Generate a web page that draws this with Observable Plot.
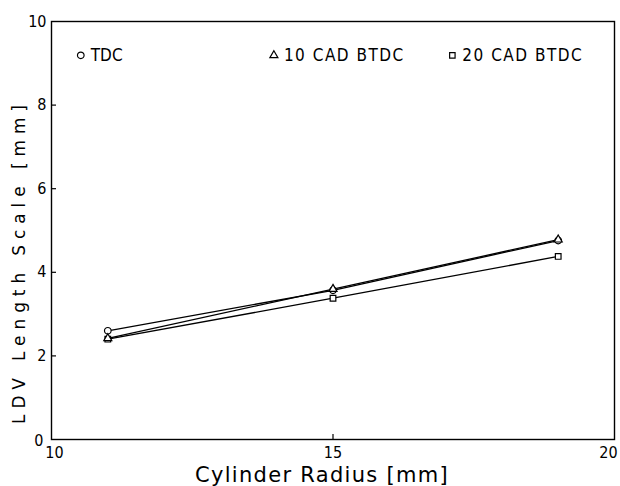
<!DOCTYPE html>
<html>
<head>
<meta charset="utf-8">
<script src="https://cdn.jsdelivr.net/npm/d3@7"></script>
<script src="https://cdn.jsdelivr.net/npm/@observablehq/plot@0.6"></script>
<style>
  html, body { margin: 0; padding: 0; background: #fff; }
  svg { display: block; }
</style>
</head>
<body>
<div id="chart"></div>
<script>
// Cylinder radius positions (mm)
const radius = [11, 15, 19];
// LDV length scale (mm) at each crank angle
const tdc   = [2.6, 3.57, 4.76];
const cad10 = [2.42, 3.6, 4.78];
const cad20 = [2.4, 3.38, 4.38];

const seriesNames = ["TDC", "10 CAD BTDC", "20 CAD BTDC"];
const seriesSymbols = ["circle", "triangle", "square"];
const xTicks = [10, 15, 20];
const yTicks = [0, 2, 4, 6, 8, 10];

const rows = [];
[tdc, cad10, cad20].forEach((vals, i) => {
  vals.forEach((v, j) => rows.push({series: seriesNames[i], symbol: seriesSymbols[i], x: radius[j], y: v}));
});

// Legend entries, laid out inside the top of the frame
const legend = seriesNames.map((name, i) => ({name, symbol: seriesSymbols[i], lx: [10.52, 13.95, 17.12][i]}));
const legendY = 9.19;

const tickFont = "'DejaVu Sans Condensed', sans-serif";
const titleFont = "'DejaVu Sans', sans-serif";
const xTitle = "Cylinder Radius [mm]";
const yTitle = "LDV Length Scale [mm]";

const markerR = d => d.symbol === "triangle" ? 3.4 : (d.symbol === "square" ? 3.9 : 4.2);

const chart = Plot.plot({
  width: 620,
  height: 486,
  marginLeft: 51,
  marginRight: 6,
  marginTop: 21,
  marginBottom: 47,
  style: {background: "#fff", color: "#000"},
  x: {domain: [10, 20]},
  y: {domain: [0, 10]},
  symbol: {domain: seriesSymbols, range: seriesSymbols},
  marks: [
    // inward tick marks
    Plot.axisX({ticks: [15], tickSize: -5, tickFormat: () => "", stroke: "#000", strokeWidth: 1.2, label: null}),
    Plot.axisY({ticks: [2, 4, 6, 8], tickSize: -5, tickFormat: () => "", stroke: "#000", strokeWidth: 1.2, label: null}),
    // tick labels
    Plot.axisX({ticks: xTicks, tickSize: 0, tickPadding: 7, fontSize: 16, fontFamily: tickFont, fill: "#000", label: null}),
    Plot.axisY({ticks: yTicks, tickSize: 0, tickPadding: 5, fontSize: 16, fontFamily: tickFont, fill: "#000", label: null}),
    Plot.frame({stroke: "#000", strokeWidth: 1.4}),
    // series lines
    Plot.line(rows, {x: "x", y: "y", z: "series", stroke: "#000", strokeWidth: 1.3}),
    // markers
    Plot.dot(rows, {x: "x", y: "y", symbol: "symbol", r: markerR, fill: "#fff", stroke: "#000", strokeWidth: 1.2}),
    // legend
    Plot.dot(legend, {x: "lx", y: () => legendY, symbol: "symbol", r: d => d.symbol === "square" ? 3.6 : markerR(d), fill: "#fff", stroke: "#000", strokeWidth: 1.2}),
    Plot.text(legend, {x: "lx", y: () => legendY, text: "name", dx: 10, textAnchor: "start", fontSize: 17, fontFamily: "'DejaVu Sans Condensed', sans-serif", fill: "#000"}),
    // axis titles
    Plot.text([xTitle], {frameAnchor: "bottom", dy: 36, dx: -11, fontSize: 21, fontFamily: titleFont, fill: "#000", textAnchor: "middle", lineAnchor: "middle"}),
    Plot.text([yTitle], {frameAnchor: "left", dx: -32, dy: 31, rotate: -90, fontSize: 17, fontFamily: titleFont, fill: "#000", textAnchor: "middle", lineAnchor: "middle"})
  ]
});

// letter spacing of the titles and legend, and nudge the corner tick labels apart
const svg = d3.select(chart);
svg.selectAll("text").each(function () {
  const t = this.textContent;
  if (t === yTitle) d3.select(this).attr("letter-spacing", 5.9);
  else if (t === xTitle) d3.select(this).attr("letter-spacing", 1.3);
  else if (seriesNames.includes(t)) d3.select(this).attr("letter-spacing", t === "TDC" ? 0 : 1.5);
});
svg.selectAll("g[aria-label='x-axis tick label'] text").each(function () {
  if (this.textContent === "20") d3.select(this).attr("dx", -6);
  if (this.textContent === "10") d3.select(this).attr("dx", 3);
});
svg.selectAll("g[aria-label='y-axis tick label'] text").each(function () {
  if (this.textContent === "0") d3.select(this).attr("dx", -3).attr("dy", "0.1em");
});
document.getElementById("chart").appendChild(chart);
</script>
</body>
</html>
